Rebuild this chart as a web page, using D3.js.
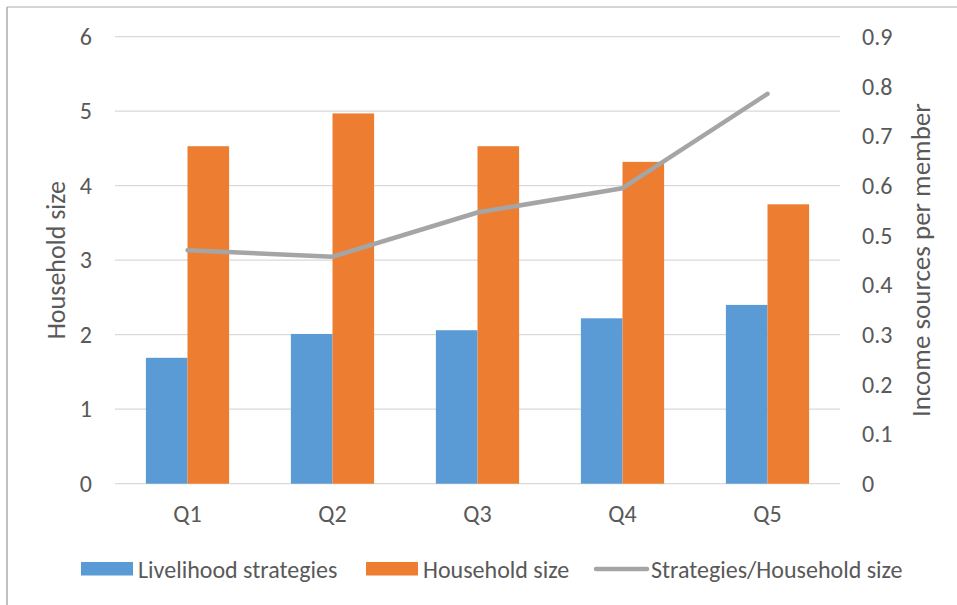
<!DOCTYPE html>
<html><head><meta charset="utf-8">
<script src="https://cdn.jsdelivr.net/npm/d3@7"></script>
<style>
body{margin:0;background:#fff}
text{font-family:Carlito,Calibri,Lato,sans-serif;fill:#595959}
</style>
</head><body>
<svg id="c" width="957" height="605"></svg>
<script>
const categories = ["Q1","Q2","Q3","Q4","Q5"];
const livelihood = [1.69, 2.01, 2.06, 2.22, 2.40];
const household  = [4.53, 4.97, 4.53, 4.32, 3.75];
const ratio      = [0.470, 0.457, 0.546, 0.595, 0.785];
const leftTicks  = [0,1,2,3,4,5,6];
const rightTicks = [0,0.1,0.2,0.3,0.4,0.5,0.6,0.7,0.8,0.9];
const seriesNames = ["Livelihood strategies","Household size","Strategies/Household size"];
const colors = ["#5B9BD5","#ED7D31","#A5A5A5"];

const svg = d3.select("#c");
const L = 115, R = 840, T = 36.7, B = 483.7;
const FS = 24;
const FF = "Carlito,Calibri,Lato,sans-serif";

// chart border (left and top)
svg.append("line").attr("x1",7).attr("x2",7).attr("y1",7).attr("y2",605).attr("stroke","#ababab").attr("stroke-width",1.5);
svg.append("line").attr("x1",7).attr("x2",957).attr("y1",7).attr("y2",7).attr("stroke","#ababab").attr("stroke-width",1.2);

const x = d3.scaleBand().domain(categories).range([L,R]).paddingInner(0).paddingOuter(0);
const yL = d3.scaleLinear().domain([0,6]).range([B,T]);
const yR = d3.scaleLinear().domain([0,0.9]).range([B,T]);
const groupW = x.bandwidth()*0.574;
const x1 = d3.scaleBand().domain(["a","b"]).range([0,groupW]);

// gridlines
svg.append("g").selectAll("line").data(leftTicks).join("line")
  .attr("x1",L).attr("x2",R).attr("y1",d=>yL(d)).attr("y2",d=>yL(d))
  .attr("stroke","#d9d9d9").attr("stroke-width",1.3);

function styleAxis(g){
  g.select(".domain").remove();
  g.selectAll("text").attr("font-size",FS).attr("fill","#595959").style("font-family",FF);
}

// left axis labels
const axL = d3.axisLeft(yL).tickValues(leftTicks).tickSize(0).tickPadding(0).tickFormat(d3.format("d"));
svg.append("g").attr("transform",`translate(${92},0)`).call(axL).call(styleAxis);

// right axis labels
const axR = d3.axisRight(yR).tickValues(rightTicks).tickSize(0).tickPadding(0).tickFormat(d=>d===0?"0":d3.format(".1f")(d));
svg.append("g").attr("transform",`translate(${862},0)`).call(axR).call(styleAxis);

// bottom axis labels
const axB = d3.axisBottom(x).tickSize(0).tickPadding(0);
svg.append("g").attr("transform",`translate(0,${505})`).call(axB).call(styleAxis);

// bars
const off = (x.bandwidth()-groupW)/2;
svg.append("g").selectAll("rect").data(categories).join("rect")
  .attr("x",d=>x(d)+off+x1("a")).attr("width",x1.bandwidth())
  .attr("y",(d,i)=>yL(livelihood[i])).attr("height",(d,i)=>yL(0)-yL(livelihood[i]))
  .attr("fill",colors[0]);
svg.append("g").selectAll("rect").data(categories).join("rect")
  .attr("x",d=>x(d)+off+x1("b")).attr("width",x1.bandwidth())
  .attr("y",(d,i)=>yL(household[i])).attr("height",(d,i)=>yL(0)-yL(household[i]))
  .attr("fill",colors[1]);

// line
const line = d3.line().x((d,i)=>x(categories[i])+x.bandwidth()/2).y(d=>yR(d));
svg.append("path").datum(ratio).attr("d",line).attr("fill","none")
  .attr("stroke",colors[2]).attr("stroke-width",4.5)
  .attr("stroke-linejoin","round").attr("stroke-linecap","round");

// axis titles
svg.append("text").attr("transform",`translate(56,${(T+B)/2}) rotate(-90)`)
  .attr("text-anchor","middle").attr("dominant-baseline","central").attr("font-size",26).text("Household size");
svg.append("text").attr("transform",`translate(920,${(T+B)/2}) rotate(-90)`)
  .attr("text-anchor","middle").attr("dominant-baseline","central").attr("font-size",27).text("Income sources per member");

// legend
const legX = [81, 366, 594];
const lg = svg.append("g");
[0,1].forEach(i=>{
  lg.append("rect").attr("x",legX[i]).attr("y",562).attr("width",52).attr("height",13.5).attr("fill",colors[i]);
});
lg.append("line").attr("x1",legX[2]+2).attr("x2",legX[2]+53).attr("y1",569).attr("y2",569)
  .attr("stroke",colors[2]).attr("stroke-width",4.5).attr("stroke-linecap","round");
seriesNames.forEach((n,i)=>{
  lg.append("text").attr("x",legX[i]+57).attr("y",569).attr("dominant-baseline","central")
    .attr("font-size",FS).text(n);
});
</script>
</body></html>
